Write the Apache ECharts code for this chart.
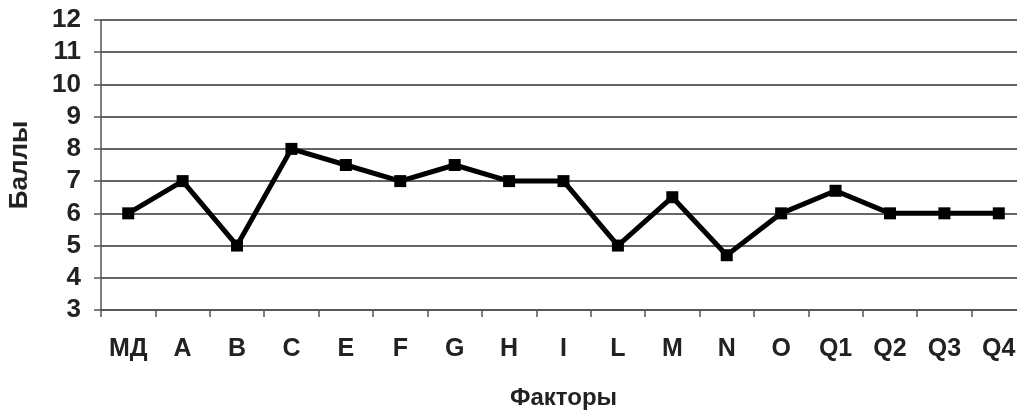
<!DOCTYPE html>
<html>
<head>
<meta charset="utf-8">
<script src="https://cdn.jsdelivr.net/npm/echarts@6/dist/echarts.min.js"></script>
<style>html,body{margin:0;padding:0;background:#fff}#c{width:1017px;height:410px}</style>
</head>
<body>
<div id="c"></div>
<script>
const categories = ['МД','A','B','C','E','F','G','H','I','L','M','N','O','Q1','Q2','Q3','Q4'];
const values = [6, 7, 5, 8, 7.5, 7, 7.5, 7, 7, 5, 6.5, 4.7, 6, 6.7, 6, 6, 6];
const yName = 'Баллы';
const xName = 'Факторы';

const chart = echarts.init(document.getElementById('c'), null, {renderer:'canvas'});
const font = 'Liberation Sans, Arial, sans-serif';
chart.setOption({
  animation:false,
  grid:{left:101, top:20, width:925, height:290, outerBoundsMode:'none', containLabel:false},
  xAxis:{
    type:'category', data:categories, boundaryGap:true,
    name:xName, nameLocation:'middle', nameGap:76,
    nameTextStyle:{fontFamily:font, fontWeight:'bold', fontSize:24, color:'#222'},
    axisLine:{lineStyle:{color:'#555', width:1.5}},
    axisTick:{show:true, length:7, lineStyle:{color:'#555', width:1.5}},
    axisLabel:{fontFamily:font, fontWeight:'bold', fontSize:25, color:'#222', margin:27, interval:0}
  },
  yAxis:{
    type:'value', min:3, max:12, interval:1,
    name:yName, nameLocation:'middle', nameGap:68, nameRotate:90,
    nameTextStyle:{fontFamily:font, fontWeight:'bold', fontSize:26, color:'#222'},
    axisLine:{show:true, lineStyle:{color:'#555', width:1.5}},
    axisTick:{show:true, length:7, lineStyle:{color:'#555', width:1.5}},
    axisLabel:{fontFamily:font, fontWeight:'bold', fontSize:26, color:'#222', margin:20},
    splitLine:{show:true, lineStyle:{color:'#333', width:1.5}}
  },
  series:[{
    type:'line', data:values,
    symbol:'rect', symbolSize:12,
    lineStyle:{color:'#000', width:5},
    itemStyle:{color:'#000'}
  }]
});
</script>
</body>
</html>
